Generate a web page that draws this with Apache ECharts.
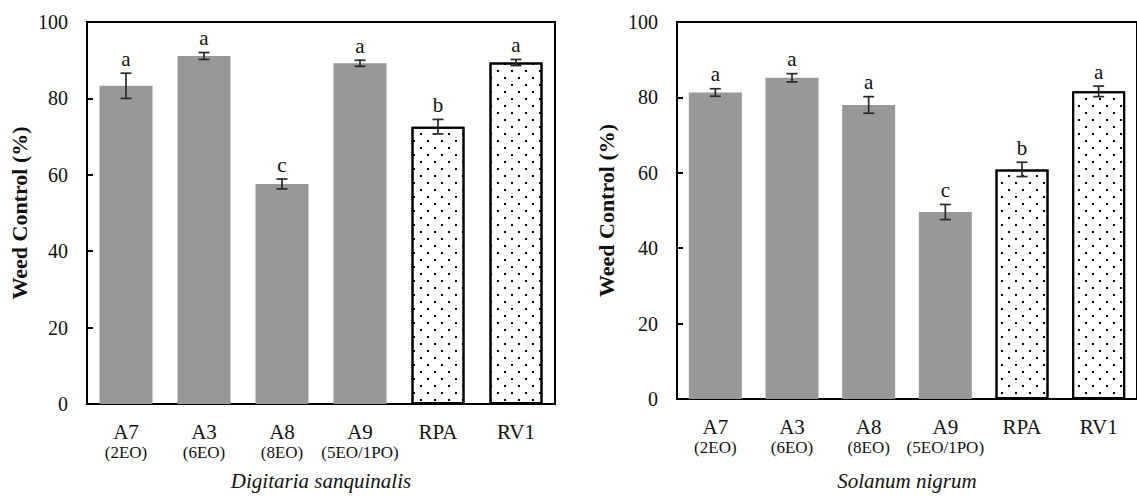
<!DOCTYPE html>
<html>
<head>
<meta charset="utf-8">
<script src="https://cdn.jsdelivr.net/npm/echarts@6/dist/echarts.min.js"></script>
<style>
html,body{margin:0;padding:0;background:#fff;}
#c{width:1137px;height:496px;}
</style>
</head>
<body>
<div id="c"></div>
<script>
const categories = ['A7', 'A3', 'A8', 'A9', 'RPA', 'RV1'];
const subLabels = ['(2EO)', '(6EO)', '(8EO)', '(5EO/1PO)', '', ''];
const digitariaMean = [83.3, 91.1, 57.6, 89.2, 72.6, 89.4];
const digitariaErr = [3.3, 0.9, 1.3, 0.8, 1.9, 0.8];
const digitariaLetters = ['a', 'a', 'c', 'a', 'b', 'a'];
const solanumMean = [81.3, 85.2, 78.0, 49.6, 60.9, 81.6];
const solanumErr = [1.0, 1.1, 2.2, 2.0, 1.9, 1.4];
const solanumLetters = ['a', 'a', 'a', 'c', 'b', 'a'];
const yTicks = [0, 20, 40, 60, 80, 100];
const speciesNames = ['Digitaria sanquinalis', 'Solanum nigrum'];
const yTitle = 'Weed Control (%)';
const referenceSet = ['RPA', 'RV1'];

const FONT = '"Liberation Serif", "Times New Roman", serif';
const GRAY = '#989898';

const dotDecal = {
  symbol: 'rect',
  symbolSize: 1,
  color: '#000',
  dashArrayX: [[2, 12], [0, 7, 2, 5]],
  dashArrayY: [2, 5],
  rotation: 0
};

function barData(means) {
  return means.map((v, i) => {
    if (referenceSet.indexOf(categories[i]) >= 0) {
      return { value: v, itemStyle: { color: '#fff', borderColor: '#000', borderWidth: 2, decal: dotDecal } };
    }
    return { value: v, itemStyle: { color: GRAY } };
  });
}

function errData(means, errs) {
  return means.map((v, i) => [i, v - errs[i], v + errs[i]]);
}

function makeErrRender(letters) {
  return function (params, api) {
    const i = api.value(0);
    const lo = api.coord([i, api.value(1)]);
    const hi = api.coord([i, api.value(2)]);
    const cap = 5.5;
    const st = { stroke: '#2a2a2a', lineWidth: 1.7 };
    return {
      type: 'group',
      children: [
        { type: 'line', shape: { x1: hi[0], y1: hi[1], x2: lo[0], y2: lo[1] }, style: st },
        { type: 'line', shape: { x1: hi[0] - cap, y1: hi[1], x2: hi[0] + cap, y2: hi[1] }, style: st },
        { type: 'line', shape: { x1: lo[0] - cap, y1: lo[1], x2: lo[0] + cap, y2: lo[1] }, style: st },
        { type: 'text', x: hi[0], y: hi[1] - 4,
          style: { text: letters[params.dataIndex], fill: '#111', font: '21px ' + FONT, align: 'center', verticalAlign: 'bottom' } }
      ]
    };
  };
}

const grids = [
  { left: 87, top: 22, width: 468, height: 384.5, show: true, borderColor: '#000', borderWidth: 2, backgroundColor: 'transparent' },
  { left: 677, top: 22, width: 468, height: 384.5, show: true, borderColor: '#000', borderWidth: 2, backgroundColor: 'transparent' }
];

function xAxis(gi, nameGap) {
  return {
    type: 'category', gridIndex: gi, data: categories,
    axisLine: { lineStyle: { color: '#000', width: 2 } },
    axisTick: { show: false },
    axisLabel: {
      margin: 17, interval: 0,
      formatter: function (val, idx) {
        const s = subLabels[idx];
        return s ? '{m|' + val + '}\n{s|' + s + '}' : '{m|' + val + '}';
      },
      rich: {
        m: { fontFamily: FONT, fontSize: 21, color: '#111', lineHeight: 21 },
        s: { fontFamily: FONT, fontSize: 17, color: '#111', lineHeight: 21 }
      }
    },
    name: speciesNames[gi], nameLocation: 'middle', nameGap: nameGap,
    nameTextStyle: { fontFamily: FONT, fontSize: 21, fontStyle: 'italic', color: '#111' }
  };
}

function yAxis(gi, nameGap) {
  return {
    type: 'value', gridIndex: gi, min: yTicks[0], max: yTicks[yTicks.length - 1], interval: 20,
    axisLine: { show: true, lineStyle: { color: '#000', width: 2 } },
    axisTick: { show: true, inside: true, length: 6, lineStyle: { color: '#000', width: 2 } },
    splitLine: { show: false },
    axisLabel: { margin: 19, fontFamily: FONT, fontSize: 20, color: '#111' },
    name: yTitle, nameLocation: 'middle', nameGap: nameGap,
    nameTextStyle: { fontFamily: FONT, fontSize: 22, fontWeight: 'bold', color: '#111' }
  };
}

const chart = echarts.init(document.getElementById('c'), null, { renderer: 'svg' });
chart.setOption({
  animation: false,
  backgroundColor: '#fff',
  grid: grids,
  xAxis: [xAxis(0, 66), xAxis(1, 71)],
  yAxis: [yAxis(0, 57), yAxis(1, 60)],
  series: [
    { type: 'bar', xAxisIndex: 0, yAxisIndex: 0, barWidth: 53, data: barData(digitariaMean) },
    { type: 'custom', xAxisIndex: 0, yAxisIndex: 0, renderItem: makeErrRender(digitariaLetters), data: errData(digitariaMean, digitariaErr), z: 5 },
    { type: 'bar', xAxisIndex: 1, yAxisIndex: 1, barWidth: 53, data: barData(solanumMean) },
    { type: 'custom', xAxisIndex: 1, yAxisIndex: 1, renderItem: makeErrRender(solanumLetters), data: errData(solanumMean, solanumErr), z: 5 }
  ]
});
</script>
</body>
</html>
